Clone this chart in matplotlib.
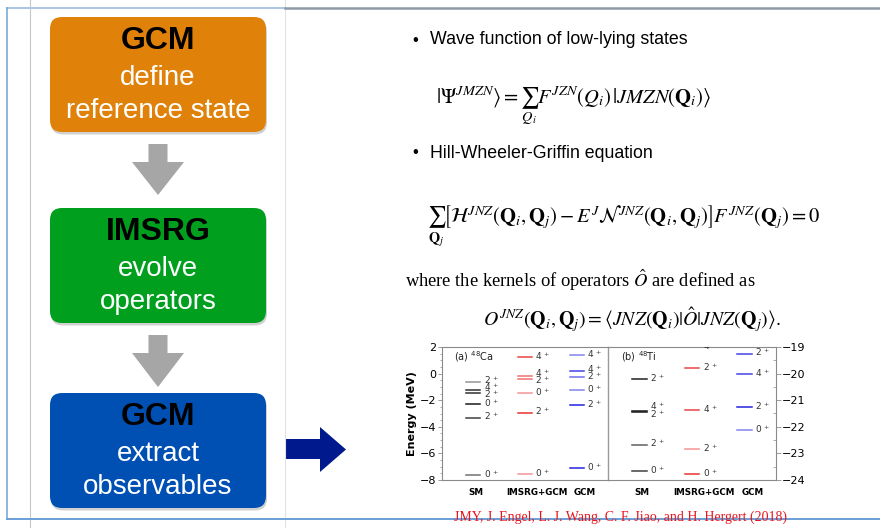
import numpy as np
import matplotlib.pyplot as plt
from matplotlib.patches import FancyBboxPatch, Polygon

plt.rcParams['mathtext.fontset'] = 'stix'

# ---- data: excitation levels (MeV) and spins ----
methods = ["SM", "IMSRG+GCM", "GCM"]

ca_sm_E = [-7.62, -3.31, -2.31, -1.43, -1.23, -0.61]
ca_sm_J = ["0", "2", "0", "2", "4", "2"]
ca_im_E = [-7.55, -2.94, -1.48, -0.41, -0.18, 1.22]
ca_im_J = ["0", "2", "0", "2", "4", "4"]
ca_gc_E = [-7.12, -2.36, -1.23, -0.28, 0.22, 1.40]
ca_gc_J = ["0", "2", "0", "2", "4", "4"]

ti_sm_E = [-23.66, -22.67, -21.43, -21.40, -20.20]
ti_sm_J = ["0", "2", "2", "4", "2"]
ti_im_E = [-23.78, -22.85, -21.37, -19.79, -18.99]
ti_im_J = ["0", "2", "4", "2", "4"]
ti_gc_E = [-22.11, -21.25, -20.01, -19.25]
ti_gc_J = ["0", "2", "4", "2"]

# line shades (style only)
ca_sm_c = ["#707070", "#404040", "#1a1a1a", "#303030", "#303030", "#959595"]
ca_im_c = ["#f49494", "#e83232", "#f49494", "#f07272", "#f07272", "#e84444"]
ca_gc_c = ["#2424e0", "#2424e0", "#8484f0", "#7070f0", "#4444e8", "#8484f0"]
ti_sm_c = ["#404040", "#606060", "#1a1a1a", "#1a1a1a", "#202020"]
ti_im_c = ["#e83232", "#f49494", "#e84444", "#e84444", "#e84444"]
ti_gc_c = ["#8484f0", "#2424e0", "#4444e8", "#4444e8"]


def spread(vals, gap, base):
    order = np.argsort(vals)
    ys = [vals[k] + base for k in order]
    for _ in range(60):
        for k in range(len(ys) - 1):
            d = ys[k + 1] - ys[k]
            if d < gap:
                s = (gap - d) / 2
                ys[k] -= s
                ys[k + 1] += s
    out = [0] * len(vals)
    for k, o in enumerate(order):
        out[o] = ys[k]
    return out


def draw_levels(ax, x, E, J, cols, gap, base):
    ly = spread(E, gap, base)
    for e, j, c, y in zip(E, J, cols, ly):
        ax.plot([x - 0.135, x + 0.135], [e, e], color=c, lw=1.1, clip_on=True)
        ax.text(x + 0.2, y, j + r"$^{\,+}$", fontsize=6.5, color="#333333",
                va="center", ha="left", math_fontfamily="dejavusans", clip_on=True)


fig = plt.figure(figsize=(8.8, 5.28), dpi=100)

# ---- slide background drawing layer (pixel coordinates) ----
bg = fig.add_axes([0, 0, 1, 1])
bg.set_xlim(0, 880)
bg.set_ylim(528, 0)
bg.axis("off")

bg.plot([30, 30], [0, 528], color="#c4c8cc", lw=0.8)
bg.plot([285, 285], [0, 528], color="#e2e2e2", lw=0.8)
bg.plot([7, 285], [7.5, 7.5], color="#a9c6e6", lw=1.4)
bg.plot([285, 880], [7.5, 7.5], color="#8f9aa6", lw=1.8)
bg.plot([7, 7], [7.5, 519], color="#7aa9d8", lw=1.2)
bg.plot([7, 880], [519, 519], color="#6a9fd6", lw=1.4)

boxes = [
    (17, "#e0820a", "GCM", ["define", "reference state"]),
    (208, "#00a01e", "IMSRG", ["evolve", "operators"]),
    (393, "#0050b4", "GCM", ["extract", "observables"]),
]
for top, col, head, lines in boxes:
    sh = FancyBboxPatch((51, top + 2.5), 216, 115,
                        boxstyle="round,pad=0,rounding_size=12",
                        fc="#000000", ec="none", alpha=0.18)
    bg.add_patch(sh)
    p = FancyBboxPatch((50, top), 216, 115,
                       boxstyle="round,pad=0,rounding_size=12",
                       fc=col, ec="none")
    bg.add_patch(p)
    bg.text(158, top + 24, head, fontsize=23, fontweight="bold",
            family="Liberation Sans", color="black", ha="center", va="center")
    bg.text(158, top + 61, lines[0], fontsize=20, family="Liberation Sans",
            color="white", ha="center", va="center")
    bg.text(158, top + 94, lines[1], fontsize=20, family="Liberation Sans",
            color="white", ha="center", va="center")


def down_arrow(cx, top, sh_w, sh_bot, hd_w, hd_bot, col):
    pts = [(cx - sh_w / 2, top), (cx + sh_w / 2, top), (cx + sh_w / 2, sh_bot),
           (cx + hd_w / 2, sh_bot), (cx, hd_bot), (cx - hd_w / 2, sh_bot),
           (cx - sh_w / 2, sh_bot)]
    bg.add_patch(Polygon(pts, closed=True, fc=col, ec="none"))


down_arrow(158, 144, 19, 162, 52, 195, "#a6a6a6")
down_arrow(158, 335, 19, 353, 52, 387, "#a6a6a6")

bg.add_patch(Polygon([(286, 439), (320, 439), (320, 427), (346, 449.5),
                      (320, 472), (320, 459), (286, 459)],
                     closed=True, fc="#001a8e", ec="none"))

# ---- right side text ----
bg.text(412, 40, "\u2022", fontsize=12, family="Liberation Sans", va="center")
bg.text(430, 40, "Wave function of low-lying states", fontsize=12.8,
        family="Liberation Sans", va="center")
bg.text(574, 106, r"$|\Psi^{JMZN}\rangle = \sum_{Q_i} F^{JZN}(Q_i)\,|JMZN(\mathbf{Q}_i)\rangle$",
        fontsize=14.8, ha="center", va="center")
bg.text(412, 153, "\u2022", fontsize=12, family="Liberation Sans", va="center")
bg.text(430, 153, "Hill-Wheeler-Griffin equation", fontsize=12.8,
        family="Liberation Sans", va="center")
bg.text(623, 226,
        r"$\sum_{\mathbf{Q}_j}\left[\mathcal{H}^{JNZ}(\mathbf{Q}_i,\mathbf{Q}_j) - E^J\mathcal{N}^{JNZ}(\mathbf{Q}_i,\mathbf{Q}_j)\right]F^{JNZ}(\mathbf{Q}_j) = 0$",
        fontsize=14.8, ha="center", va="center")
bg.text(405, 280, r"where the kernels of operators $\hat{O}$ are defined as",
        fontsize=13.3, family="Liberation Serif", va="center")
bg.text(632, 320,
        r"$O^{JNZ}(\mathbf{Q}_i,\mathbf{Q}_j) = \langle JNZ(\mathbf{Q}_i)|\hat{O}|JNZ(\mathbf{Q}_j)\rangle.$",
        fontsize=14.2, ha="center", va="center")
bg.text(621, 517, "JMY, J. Engel, L. J. Wang, C. F. Jiao, and H. Hergert (2018)",
        fontsize=10, family="Liberation Serif", color="#e8141e",
        ha="center", va="center")

# ---- level scheme panels ----
W, H = 880.0, 528.0
axA = fig.add_axes([442 / W, 1 - 480 / H, 166 / W, 133 / H])
axB = fig.add_axes([608 / W, 1 - 480 / H, 168 / W, 133 / H])

xpos = np.arange(len(methods))
lab_pos = xpos + np.array([0.05, 0.23, 0.15])

for ax in (axA, axB):
    ax.set_xlim(-0.6, 2.6)
    ax.set_xticks(lab_pos)
    ax.set_xticklabels(methods, fontsize=6.3, fontweight="bold")
    ax.tick_params(axis="x", length=0, pad=6)
    for s in ax.spines.values():
        s.set_color("#8a8a8a")
        s.set_linewidth(0.8)

draw_levels(axA, xpos[0], ca_sm_E, ca_sm_J, ca_sm_c, 0.55, 0.08)
draw_levels(axA, xpos[1], ca_im_E, ca_im_J, ca_im_c, 0.55, 0.08)
draw_levels(axA, xpos[2], ca_gc_E, ca_gc_J, ca_gc_c, 0.55, 0.08)
axA.set_ylim(-8, 2)
axA.set_yticks(np.arange(-8, 3, 2))
axA.set_yticks(np.arange(-8, 2.1, 0.5), minor=True)
axA.tick_params(axis="y", which="major", labelsize=8, length=3, width=0.6,
                color="#8a8a8a", pad=1)
axA.tick_params(axis="y", which="minor", length=1.5, width=0.5, color="#8a8a8a")
axA.spines["right"].set_visible(False)
axA.set_ylabel("Energy (MeV)", fontsize=8, fontweight="bold", labelpad=2)
axA.text(0.07, 0.93, r"(a) $^{48}$Ca", transform=axA.transAxes, fontsize=7,
         va="center", color="#222222", math_fontfamily="dejavusans")

draw_levels(axB, xpos[0], ti_sm_E, ti_sm_J, ti_sm_c, 0.28, 0.04)
draw_levels(axB, xpos[1], ti_im_E, ti_im_J, ti_im_c, 0.28, 0.04)
draw_levels(axB, xpos[2], ti_gc_E, ti_gc_J, ti_gc_c, 0.28, 0.04)
axB.set_ylim(-24, -19)
axB.yaxis.tick_right()
axB.set_yticks(np.arange(-24, -18.5, 1))
axB.set_yticks(np.arange(-24, -18.9, 0.5), minor=True)
axB.tick_params(axis="y", which="major", labelsize=8, length=3.5, width=0.6,
                color="#8a8a8a", pad=1, right=True, left=False)
axB.tick_params(axis="y", which="minor", length=2, width=0.5, direction="in",
                color="#8a8a8a", right=True, left=False)
axB.spines["left"].set_color("#9a9a9a")
axB.spines["left"].set_linewidth(1.0)
axB.text(0.08, 0.93, r"(b) $^{48}$Ti", transform=axB.transAxes, fontsize=7,
         va="center", color="#222222", math_fontfamily="dejavusans")

plt.savefig("out.png", dpi=100)
